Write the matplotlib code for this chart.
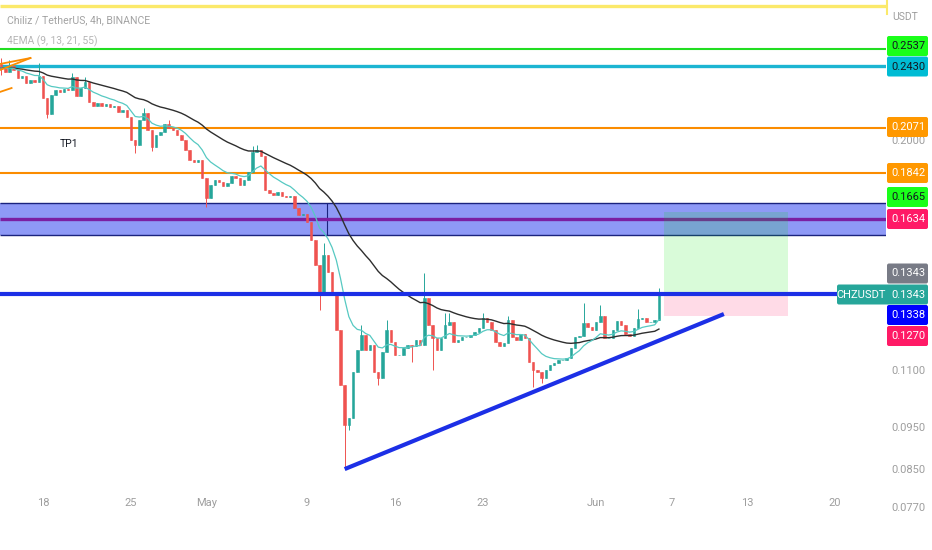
import numpy as np
import pandas as pd
import matplotlib
matplotlib.use("Agg")
import matplotlib.pyplot as plt
import matplotlib.dates as mdates
from matplotlib.patches import Rectangle, FancyBboxPatch

# %%
# CHZ/USDT, 8h candles
start = "2022-04-14 16:00"
first_open = 0.2440
closes = [
    .2418, .2393, .2430, .2405, .2355, .2368, .2325, .2343, .2331, .2368,
    .2237, .2146, .2254, .2283, .2271, .2289, .2283, .2362, .2248, .2295,
    .2331, .2214, .2191, .2208, .2191, .2202, .2185, .2191, .2157, .2168,
    .2129, .2005, .1980, .2112, .2151, .2058, .1970, .2032, .2047, .2090,
    .2069, .2058, .2032, .2005, .1954, .1904, .1894, .1904, .1817, .1725,
    .1784, .1807, .1798, .1779, .1793, .1826, .1817, .1784, .1807, .1845,
    .1944, .1954, .1924, .1761, .1748, .1739, .1752, .1734, .1730, .1734,
    .1681, .1650, .1655, .1621, .1547, .1450, .1351, .1488, .1424, .1340,
    .1224, .1061, .0956, .0974, .1097, .1162, .1209, .1162, .1178, .1097,
    .1081, .1156, .1224, .1187, .1147, .1147, .1168, .1178, .1174, .1193,
    .1178, .1330, .1240, .1199, .1162, .1199, .1240, .1250, .1187, .1193,
    .1202, .1202, .1209, .1218, .1230, .1263, .1250, .1224, .1187, .1174,
    .1184, .1256, .1202, .1193, .1212, .1199, .1126, .1103, .1097, .1081,
    .1103, .1118, .1123, .1132, .1132, .1138, .1168, .1202, .1205, .1246,
    .1234, .1224, .1250, .1269, .1199, .1199, .1224, .1253, .1240, .1212,
    .1205, .1230, .1260, .1263, .1250, .1250, .1256, .1343,
]
# wick extremes where they stick out
highs = {0: .2481, 2: .2468, 9: .2449, 17: .2386, 20: .2362, 34: .2179,
         40: .2112, 60: .1974, 61: .1979, 77: .1535, 86: .1240, 92: .1256,
         101: .1420, 106: .1279, 107: .1279, 115: .1279, 121: .1269,
         139: .1313, 143: .1306, 152: .1293, 157: .1365}
lows = {0: .2374, 11: .2123, 32: .1939, 36: .1950, 49: .1685, 76: .1289,
        82: .0855, 83: .0944, 90: .1061, 98: .1126, 103: .1103,
        127: .1055, 129: .1067}

# drawn levels
top_line = 0.2840
levels = [0.2537, 0.2430, 0.2071, 0.1842]
zone = (0.1567, 0.1701)
zone_mid = 0.1634
zone_split = "2022-05-10 14:00"
breakout = 0.1343
trend = [("2022-05-12 00:00", 0.0853), ("2022-06-11 04:00", 0.1276)]
fan = [[("2022-04-14 14:00", 0.2405), ("2022-04-17 00:00", 0.2481)],
       [("2022-04-14 14:00", 0.2443), ("2022-04-17 00:00", 0.2481)],
       [("2022-04-14 14:00", 0.2272), ("2022-04-15 12:00", 0.2295)]]
pos_time = ("2022-06-06 10:00", "2022-06-16 06:00")
pos_entry, pos_target, pos_stop = 0.1338, 0.1665, 0.1270
tp1 = ("2022-04-20 02:00", 0.1985)

price_ticks = [0.2000, 0.1100, 0.0950, 0.0850, 0.0770]
date_ticks = ["2022-04-18", "2022-04-25", "2022-05-01", "2022-05-09", "2022-05-16",
              "2022-05-23", "2022-06-01", "2022-06-07", "2022-06-13", "2022-06-20"]
date_labels = ["18", "25", "May", "9", "16", "23", "Jun", "7", "13", "20"]

# %%
t = mdates.date2num(pd.date_range(start, periods=len(closes), freq="8h").to_pydatetime())
c = np.array(closes)
o = np.array([first_open] + closes[:-1])
h = np.maximum(o, c)
l = np.minimum(o, c)
for k, v in highs.items():
    h[k] = v
for k, v in lows.items():
    l[k] = v
ema_fast = pd.Series(c).ewm(span=11, adjust=False).mean()
ema_slow = pd.Series(c).ewm(span=34, adjust=False).mean()

def d(s):
    return mdates.date2num(pd.Timestamp(s).to_pydatetime())

W, H = 932, 550
PX_DAY = 12.57
x_left = d("2022-04-18") - 43 / PX_DAY
x_right = x_left + 886 / PX_DAY
y_top = 0.2 * np.exp(141 / 385)
y_bot = 0.2 * np.exp(-(H - 141) / 385)

fig = plt.figure(figsize=(W / 100, H / 100), dpi=100)
ax = fig.add_axes([0, 0, 886 / W, 1])
ax.set_yscale("log")
ax.set_xlim(x_left, x_right)
ax.set_ylim(y_bot, y_top)
ax.axis("off")

UP, DOWN = "#26a69a", "#ef5350"
col = np.where(c >= o, UP, DOWN)

# zone + position boxes
ax.add_patch(Rectangle((x_left - 1, zone[0]), x_right - x_left + 2, zone[1] - zone[0],
                       facecolor="#3d4ff0", alpha=0.58, edgecolor="none", zorder=1))
ax.hlines(zone, x_left, x_right, color="#1a237e", lw=1.0, zorder=2)
ax.vlines(d(zone_split), zone[0], zone[1], color="#1a237e", lw=0.8, zorder=2)
ax.hlines(zone_mid, x_left, x_right, color="#7b1fa2", lw=2.4, zorder=2)

p0, p1 = d(pos_time[0]), d(pos_time[1])
ax.add_patch(Rectangle((p0, pos_entry), p1 - p0, pos_target - pos_entry,
                       facecolor="#00e600", alpha=0.15, edgecolor="none", zorder=3))
ax.add_patch(Rectangle((p0, pos_stop), p1 - p0, pos_entry - pos_stop,
                       facecolor="#ff4d88", alpha=0.2, edgecolor="none", zorder=3))

# horizontal levels
ax.hlines(top_line, x_left, x_right, color="#fbe96a", lw=2.4, zorder=2)
ax.hlines(levels[0], x_left, x_right, color="#22dd22", lw=1.5, zorder=2)
ax.hlines(levels[1], x_left, x_right, color="#1cb5d2", lw=2.4, zorder=2)
ax.hlines(levels[2:], x_left, x_right, color="#fb8c00", lw=1.5, zorder=2)

# candles
ax.vlines(t, l, h, color=col, lw=0.7, zorder=4)
ax.bar(t, np.abs(c - o), bottom=np.minimum(o, c), width=0.2, color=col,
       edgecolor=col, lw=0.4, zorder=5)

ax.plot(t, ema_slow, color="#2e2e2e", lw=1.0, zorder=6)
ax.plot(t, ema_fast, color="#56c9c2", lw=0.9, zorder=6)

ax.hlines(breakout, x_left, x_right, color="#1c2fe6", lw=3.0, zorder=7)
ax.plot([d(trend[0][0]), d(trend[1][0])], [trend[0][1], trend[1][1]],
        color="#1c2fe6", lw=3.0, solid_capstyle="butt", zorder=7)
for seg in fan:
    ax.plot([d(seg[0][0]), d(seg[1][0])], [seg[0][1], seg[1][1]],
            color="#fb8c00", lw=1.3, zorder=7, clip_on=True)

NARROW = ["Liberation Sans Narrow", "Roboto"]
ax.text(d(tp1[0]), tp1[1], "TP1", fontsize=7.5, color="#131722", ha="center",
        va="center", family=NARROW, zorder=8)

# date labels and price ticks
ytr = ax.get_yaxis_transform()
for p in price_ticks:
    ax.text(908 / 886, p, f"{p:.4f}", transform=ytr, ha="center", va="center",
            fontsize=8, color="#9e9e9e", family=NARROW, clip_on=False)
xtr = ax.get_xaxis_transform()
for s, lab in zip(date_ticks, date_labels):
    ax.text(d(s), 1 - 503 / H, lab, transform=xtr, ha="center", va="center",
            fontsize=8, color="#9e9e9e", family=NARROW)

# %%
# overlay in pixels for header and price axis labels
ov = fig.add_axes([0, 0, 1, 1], zorder=10)
ov.set_xlim(0, W)
ov.set_ylim(H, 0)
ov.axis("off")

ov.text(7, 20, "Chiliz / TetherUS, 4h, BINANCE", fontsize=7.6, color="#a3a3a3",
        va="center", family=NARROW)
ov.text(7, 41, "4EMA (9, 13, 21, 55)", fontsize=7.4, color="#b5b5b5",
        va="center", family=NARROW)
ov.text(905, 17, "USDT", fontsize=7.5, color="#9e9e9e", ha="center", va="center",
        family=NARROW)
ov.plot([887, 887], [0, 14], color="#fbe96a", lw=1.5)

tags = [(46, levels[0], "#1aff1a", "#131722"),
        (66.5, levels[1], "#00bcd4", "#131722"),
        (127, levels[2], "#ff9800", "white"),
        (173, levels[3], "#ff9800", "white"),
        (197, pos_target, "#1aff1a", "#131722"),
        (219, zone_mid, "#ff1a66", "white"),
        (273.5, closes[-1], "#787b86", "white"),
        (294.5, closes[-1], "#26a69a", "white"),
        (315, pos_entry, "#0000ff", "white"),
        (336, pos_stop, "#ff1a66", "white")]
for y, v, bg, fg in tags:
    x0 = 837 if bg == "#26a69a" else 887
    ov.add_patch(FancyBboxPatch((x0, y - 10), 928 - x0, 20,
                                boxstyle="round,pad=0,rounding_size=2",
                                facecolor=bg, edgecolor="none"))
    ov.text(908, y, f"{v:.4f}", fontsize=8, color=fg, ha="center", va="center",
            family=NARROW)
    if x0 == 837:
        ov.text(861, y, "CHZUSDT", fontsize=8, color=fg, ha="center", va="center",
                family=NARROW)

fig.savefig("out.png", dpi=100, facecolor="white")
